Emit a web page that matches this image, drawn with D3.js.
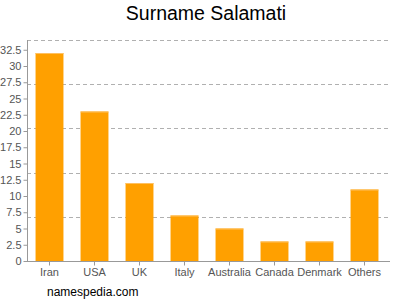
<!DOCTYPE html>
<html>
<head>
<meta charset="utf-8">
<script src="https://cdn.jsdelivr.net/npm/d3@7"></script>
<style>
  body { margin: 0; background: #fff; }
  svg { display: block; font-family: "Liberation Sans", Arial, sans-serif; }
</style>
</head>
<body>
<svg id="viz"></svg>
<script>
var width = 400;
var height = 300;

// data
var countries = ["Iran", "USA", "UK", "Italy", "Australia", "Canada", "Denmark", "Others"];
var counts = [32, 23, 12, 7, 5, 3, 3, 11];
var yTicks = [0, 2.5, 5, 7.5, 10, 12.5, 15, 17.5, 20, 22.5, 25, 27.5, 30, 32.5];
var yMax = 34;

// plot box (window.top is taken, so no "top" here)
var plotLeft = 27, plotRight = 387, plotTop = 40, plotBottom = 261;

var svg = d3.select("#viz").attr("width", width).attr("height", height);

svg.append("text")
    .attr("x", 206)
    .attr("y", 20)
    .attr("text-anchor", "middle")
    .style("font-size", "19.5px")
    .style("fill", "#000")
    .text("Surname Salamati");

var x = d3.scaleBand()
    .domain(countries)
    .range([plotLeft, plotRight])
    .paddingInner(0.38)
    .paddingOuter(0.19);

var y = d3.scaleLinear()
    .domain([0, yMax])
    .range([plotBottom, plotTop]);

// dashed grid, five equal steps up to the top
var grid = d3.range(1, 6).map(function(i) { return yMax * i / 5; });
svg.append("g").selectAll("line")
    .data(grid)
    .enter()
    .append("line")
    .attr("x1", plotLeft)
    .attr("x2", plotRight + 3)
    .attr("y1", function(d) { return Math.round(y(d)) + 0.5; })
    .attr("y2", function(d) { return Math.round(y(d)) + 0.5; })
    .style("stroke", "#b0b0b0")
    .style("stroke-dasharray", "4,3")
    .style("stroke-width", 1);

svg.append("g").selectAll("rect")
    .data(counts)
    .enter()
    .append("rect")
    .attr("x", function(d, i) { return x(countries[i]); })
    .attr("y", function(d) { return y(d); })
    .attr("width", x.bandwidth())
    .attr("height", function(d) { return plotBottom - y(d); })
    .style("fill", "#ffa000");

// lighter edge on top of each bar
svg.append("g").selectAll("line")
    .data(counts)
    .enter()
    .append("line")
    .attr("x1", function(d, i) { return x(countries[i]); })
    .attr("x2", function(d, i) { return x(countries[i]) + x.bandwidth(); })
    .attr("y1", function(d) { return y(d) + 0.5; })
    .attr("y2", function(d) { return y(d) + 0.5; })
    .style("stroke", "#ffc060")
    .style("stroke-width", 1);

var yAxis = svg.append("g")
    .attr("transform", "translate(" + (plotLeft + 0.5) + ",0)")
    .call(d3.axisLeft(y).tickValues(yTicks).tickSize(4).tickPadding(2)
        .tickFormat(function(d) { return String(d); }));

var xAxis = svg.append("g")
    .attr("transform", "translate(0," + (plotBottom + 0.5) + ")")
    .call(d3.axisBottom(x).tickSize(4).tickPadding(3));

[yAxis, xAxis].forEach(function(a) {
    a.select(".domain").remove();
    a.selectAll("line").style("stroke", "#999");
    a.selectAll("text")
        .style("font-family", "Liberation Sans, Arial, sans-serif")
        .style("font-size", "11px")
        .style("fill", "#555");
});

svg.append("line")
    .attr("x1", plotLeft + 0.5).attr("x2", plotLeft + 0.5)
    .attr("y1", plotTop).attr("y2", plotBottom)
    .style("stroke", "#999");
svg.append("line")
    .attr("x1", plotLeft).attr("x2", plotRight + 3)
    .attr("y1", plotBottom + 0.5).attr("y2", plotBottom + 0.5)
    .style("stroke", "#999");

svg.append("text")
    .attr("x", 47)
    .attr("y", 296)
    .style("font-size", "12px")
    .style("fill", "#000")
    .text("namespedia.com");
</script>
</body>
</html>
